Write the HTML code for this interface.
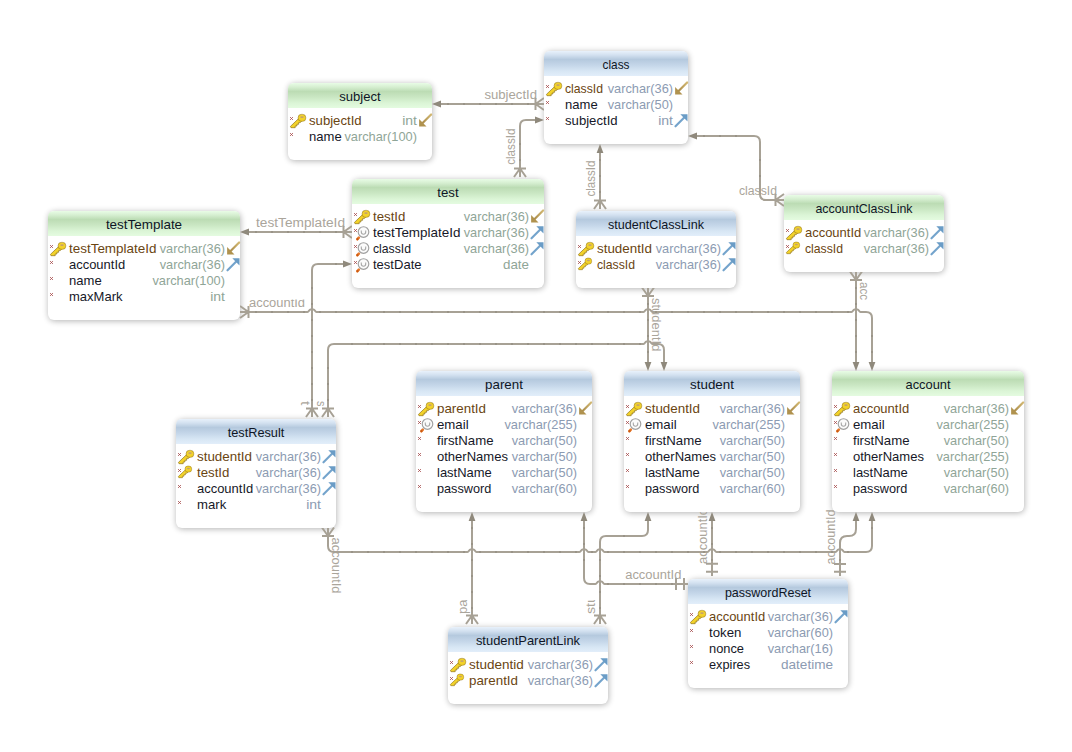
<!DOCTYPE html><html><head><meta charset="utf-8"><style>html,body{margin:0;padding:0;background:#fff;width:1072px;height:752px;overflow:hidden}svg{display:block}</style></head><body>
<svg width="1072" height="752" viewBox="0 0 1072 752">
<defs>
<filter id="blur" x="-20%" y="-20%" width="140%" height="140%"><feGaussianBlur stdDeviation="3.4"/></filter>
<linearGradient id="gblue" x1="0" y1="0" x2="0" y2="1"><stop offset="0" stop-color="#e8f1fb"/><stop offset="0.16" stop-color="#d3e1f0"/><stop offset="0.34" stop-color="#b5c9de"/><stop offset="0.55" stop-color="#c3d5e8"/><stop offset="0.8" stop-color="#d7e6f4"/><stop offset="1" stop-color="#e2eefa"/></linearGradient>
<linearGradient id="ggreen" x1="0" y1="0" x2="0" y2="1"><stop offset="0" stop-color="#e8fce6"/><stop offset="0.16" stop-color="#d6efd1"/><stop offset="0.34" stop-color="#bcdcb4"/><stop offset="0.55" stop-color="#c9e6c2"/><stop offset="0.8" stop-color="#dbf5d6"/><stop offset="1" stop-color="#e4fbe0"/></linearGradient>
<linearGradient id="gidx" x1="0" y1="0" x2="0" y2="1"><stop offset="0" stop-color="#ffffff"/><stop offset="1" stop-color="#e6e6e6"/></linearGradient>
<linearGradient id="gpk" x1="1" y1="0" x2="0" y2="1"><stop offset="0" stop-color="#d2b872"/><stop offset="1" stop-color="#a88a4a"/></linearGradient>
</defs>
<g fill="#000" opacity="0.30" filter="url(#blur)">
<rect x="544.5" y="52" width="144" height="93" rx="6"/>
<rect x="288.5" y="84" width="144" height="77" rx="6"/>
<rect x="352.5" y="180" width="192" height="109" rx="6"/>
<rect x="48.5" y="212" width="192" height="109" rx="6"/>
<rect x="576.5" y="212" width="160" height="77" rx="6"/>
<rect x="784.5" y="196" width="160" height="77" rx="6"/>
<rect x="416.5" y="372" width="176" height="141" rx="6"/>
<rect x="624.5" y="372" width="176" height="141" rx="6"/>
<rect x="832.5" y="372" width="192" height="141" rx="6"/>
<rect x="176.5" y="420" width="160" height="109" rx="6"/>
<rect x="688.5" y="580" width="160" height="109" rx="6"/>
<rect x="448.5" y="628" width="160" height="77" rx="6"/>
</g>
<g><text x="484.4" y="98.7" font-family="Liberation Sans, sans-serif" font-size="12.5" fill="#aaa59b" textLength="52.6" lengthAdjust="spacingAndGlyphs">subjectId</text></g>
<g><text x="515" y="164.8" transform="rotate(-90 515 164.8)" font-family="Liberation Sans, sans-serif" font-size="12.5" fill="#aaa59b" textLength="36.3" lengthAdjust="spacingAndGlyphs">classId</text></g>
<g><text x="595" y="196.5" transform="rotate(-90 595 196.5)" font-family="Liberation Sans, sans-serif" font-size="12.5" fill="#aaa59b" textLength="35.9" lengthAdjust="spacingAndGlyphs">classId</text></g>
<g><text x="739" y="194.5" font-family="Liberation Sans, sans-serif" font-size="12.5" fill="#aaa59b" textLength="38.0" lengthAdjust="spacingAndGlyphs">classId</text></g>
<g><text x="256" y="227" font-family="Liberation Sans, sans-serif" font-size="12.5" fill="#aaa59b" textLength="89.0" lengthAdjust="spacingAndGlyphs">testTemplateId</text></g>
<clipPath id="lc1"><rect x="240" y="299.5" width="80" height="20"/></clipPath>
<g clip-path="url(#lc1)"><text x="249" y="306.5" font-family="Liberation Sans, sans-serif" font-size="12.5" fill="#aaa59b" textLength="56.0" lengthAdjust="spacingAndGlyphs">accountId</text></g>
<g><text x="300.5" y="401" transform="rotate(90 300.5 401)" font-family="Liberation Sans, sans-serif" font-size="12.5" fill="#aaa59b" textLength="4.4" lengthAdjust="spacingAndGlyphs">t</text></g>
<g><text x="316.5" y="401" transform="rotate(90 316.5 401)" font-family="Liberation Sans, sans-serif" font-size="12.5" fill="#aaa59b" textLength="5.5" lengthAdjust="spacingAndGlyphs">s</text></g>
<g><text x="651.5" y="298" transform="rotate(90 651.5 298)" font-family="Liberation Sans, sans-serif" font-size="12.5" fill="#aaa59b" textLength="53.4" lengthAdjust="spacingAndGlyphs">studentId</text></g>
<g><text x="860" y="282" transform="rotate(90 860 282)" font-family="Liberation Sans, sans-serif" font-size="12.5" fill="#aaa59b" textLength="18.0" lengthAdjust="spacingAndGlyphs">acc</text></g>
<g><text x="331.5" y="537.5" transform="rotate(90 331.5 537.5)" font-family="Liberation Sans, sans-serif" font-size="12.5" fill="#aaa59b" textLength="56.0" lengthAdjust="spacingAndGlyphs">accountId</text></g>
<clipPath id="lc2"><rect x="450" y="600" width="30" height="20"/></clipPath>
<g clip-path="url(#lc2)"><text x="467" y="614" transform="rotate(-90 467 614)" font-family="Liberation Sans, sans-serif" font-size="12.5" fill="#aaa59b" textLength="14.6" lengthAdjust="spacingAndGlyphs">pa</text></g>
<clipPath id="lc3"><rect x="580" y="600" width="30" height="20"/></clipPath>
<g clip-path="url(#lc3)"><text x="595.2" y="614" transform="rotate(-90 595.2 614)" font-family="Liberation Sans, sans-serif" font-size="12.5" fill="#aaa59b" textLength="19.0" lengthAdjust="spacingAndGlyphs">stu</text></g>
<g><text x="625.2" y="578.7" font-family="Liberation Sans, sans-serif" font-size="12.5" fill="#aaa59b" textLength="56.2" lengthAdjust="spacingAndGlyphs">accountId</text></g>
<g><text x="707" y="564" transform="rotate(-90 707 564)" font-family="Liberation Sans, sans-serif" font-size="12.5" fill="#aaa59b" textLength="56.0" lengthAdjust="spacingAndGlyphs">accountId</text></g>
<g><text x="835" y="564.5" transform="rotate(-90 835 564.5)" font-family="Liberation Sans, sans-serif" font-size="12.5" fill="#aaa59b" textLength="55.0" lengthAdjust="spacingAndGlyphs">accountId</text></g>
<path d="M440,104 H536" fill="none" stroke="#a7a195" stroke-width="2"/>
<polygon points="432,104 441,100.6 441,107.4" fill="#8f897c"/>
<path d="M535.5,104 L544,98 M535.5,104 L544,104 M535.5,104 L544,110 M535.5,98 V110" fill="none" stroke="#a7a195" stroke-width="2"/>
<path d="M520,168 V126 Q520,120 526,120 H536" fill="none" stroke="#a7a195" stroke-width="2"/>
<polygon points="544,120 535,116.6 535,123.4" fill="#8f897c"/>
<path d="M520,168.5 L514,177 M520,168.5 L520,177 M520,168.5 L526,177 M514,168.5 H526" fill="none" stroke="#a7a195" stroke-width="2"/>
<path d="M600,152 V200" fill="none" stroke="#a7a195" stroke-width="2"/>
<polygon points="600,144 596.6,153 603.4,153" fill="#8f897c"/>
<path d="M600,200.5 L594,209 M600,200.5 L600,209 M600,200.5 L606,209 M594,200.5 H606" fill="none" stroke="#a7a195" stroke-width="2"/>
<path d="M776,200 H766 Q760,200 760,194 V142 Q760,136 754,136 H696" fill="none" stroke="#a7a195" stroke-width="2"/>
<polygon points="688,136 697,132.6 697,139.4" fill="#8f897c"/>
<path d="M775.5,200 L784,194 M775.5,200 L784,200 M775.5,200 L784,206 M775.5,194 V206" fill="none" stroke="#a7a195" stroke-width="2"/>
<path d="M248,232 H344" fill="none" stroke="#a7a195" stroke-width="2"/>
<polygon points="240,232 249,228.6 249,235.4" fill="#8f897c"/>
<path d="M343.5,232 L352,226 M343.5,232 L352,232 M343.5,232 L352,238 M343.5,226 V238" fill="none" stroke="#a7a195" stroke-width="2"/>
<path d="M248,312 H307.5 C309,312 309,309.4 310.5,309.4 H313.5 C315,309.4 315,312 316.5,312 H643.5 C645,312 645,309.4 646.5,309.4 H649.5 C651,309.4 651,312 652.5,312 H851.5 C853,312 853,309.4 854.5,309.4 H857.5 C859,309.4 859,312 860.5,312 H866 Q872,312 872,318 V362" fill="none" stroke="#a7a195" stroke-width="2"/>
<polygon points="872,371 868.6,362 875.4,362" fill="#8f897c"/>
<path d="M248.5,312 L240,306 M248.5,312 L240,312 M248.5,312 L240,318 M248.5,306 V318" fill="none" stroke="#a7a195" stroke-width="2"/>
<path d="M312,408 V270 Q312,264 318,264 H343" fill="none" stroke="#a7a195" stroke-width="2"/>
<polygon points="352,264 343,260.6 343,267.4" fill="#8f897c"/>
<path d="M312,408.5 L306,417 M312,408.5 L312,417 M312,408.5 L318,417 M306,408.5 H318" fill="none" stroke="#a7a195" stroke-width="2"/>
<path d="M328,408 V350 Q328,344 334,344 H643.5 C645,344 645,341.4 646.5,341.4 H649.5 C651,341.4 651,344 652.5,344 H658 Q664,344 664,350 V362" fill="none" stroke="#a7a195" stroke-width="2"/>
<polygon points="664,371 660.6,362 667.4,362" fill="#8f897c"/>
<path d="M328,408.5 L322,417 M328,408.5 L328,417 M328,408.5 L334,417 M322,408.5 H334" fill="none" stroke="#a7a195" stroke-width="2"/>
<path d="M648,296 V362" fill="none" stroke="#a7a195" stroke-width="2"/>
<polygon points="648,371 644.6,362 651.4,362" fill="#8f897c"/>
<path d="M648,296.0 L642,287.5 M648,296.0 L648,287.5 M648,296.0 L654,287.5 M642,296.0 H654" fill="none" stroke="#a7a195" stroke-width="2"/>
<path d="M856,280 V362" fill="none" stroke="#a7a195" stroke-width="2"/>
<polygon points="856,371 852.6,362 859.4,362" fill="#8f897c"/>
<path d="M856,280.0 L850,271.5 M856,280.0 L856,271.5 M856,280.0 L862,271.5 M850,280.0 H862" fill="none" stroke="#a7a195" stroke-width="2"/>
<path d="M328,536 V546 Q328,552 334,552 H467.5 C469,552 469,549.4 470.5,549.4 H473.5 C475,549.4 475,552 476.5,552 H579.5 C581,552 581,549.4 582.5,549.4 H585.5 C587,549.4 587,552 588.5,552 H595.5 C597,552 597,549.4 598.5,549.4 H601.5 C603,549.4 603,552 604.5,552 H707.5 C709,552 709,549.4 710.5,549.4 H713.5 C715,549.4 715,552 716.5,552 H835.5 C837,552 837,549.4 838.5,549.4 H841.5 C843,549.4 843,552 844.5,552 H866 Q872,552 872,546 V521" fill="none" stroke="#a7a195" stroke-width="2"/>
<polygon points="872,512 868.6,521 875.4,521" fill="#8f897c"/>
<path d="M328,536.0 L322,527.5 M328,536.0 L328,527.5 M328,536.0 L334,527.5 M322,536.0 H334" fill="none" stroke="#a7a195" stroke-width="2"/>
<path d="M472,616 V521" fill="none" stroke="#a7a195" stroke-width="2"/>
<polygon points="472,512 468.6,521 475.4,521" fill="#8f897c"/>
<path d="M472,615.5 L466,624 M472,615.5 L472,624 M472,615.5 L478,624 M466,615.5 H478" fill="none" stroke="#a7a195" stroke-width="2"/>
<path d="M600,616 V542 Q600,536 606,536 H642 Q648,536 648,530 V521" fill="none" stroke="#a7a195" stroke-width="2"/>
<polygon points="648,512 644.6,521 651.4,521" fill="#8f897c"/>
<path d="M600,615.5 L594,624 M600,615.5 L600,624 M600,615.5 L606,624 M594,615.5 H606" fill="none" stroke="#a7a195" stroke-width="2"/>
<path d="M584,521 V578 Q584,584 590,584 H595.5 C597,584 597,581.4 598.5,581.4 H601.5 C603,581.4 603,584 604.5,584 H688" fill="none" stroke="#a7a195" stroke-width="2"/>
<polygon points="584,512 580.6,521 587.4,521" fill="#8f897c"/>
<path d="M676,578 V590 M684,578 V590" fill="none" stroke="#a7a195" stroke-width="2"/>
<path d="M712,521 V576" fill="none" stroke="#a7a195" stroke-width="2"/>
<polygon points="712,512 708.6,521 715.4,521" fill="#8f897c"/>
<path d="M706,563.8 H718 M706,571.8 H718" fill="none" stroke="#a7a195" stroke-width="2"/>
<path d="M840,576 V543 Q840,536 847,536 H849 Q856,536 856,529 V521" fill="none" stroke="#a7a195" stroke-width="2"/>
<polygon points="856,512 852.6,521 859.4,521" fill="#8f897c"/>
<path d="M834,563.9 H846 M834,571.8 H846" fill="none" stroke="#a7a195" stroke-width="2"/>
<g fill="#8f897d" opacity="0.55"><rect x="447" y="103" width="2" height="2"/><rect x="463" y="103" width="2" height="2"/><rect x="479" y="103" width="2" height="2"/><rect x="495" y="103" width="2" height="2"/><rect x="511" y="103" width="2" height="2"/><rect x="527" y="103" width="2" height="2"/><rect x="703" y="135" width="2" height="2"/><rect x="719" y="135" width="2" height="2"/><rect x="735" y="135" width="2" height="2"/><rect x="255" y="231" width="2" height="2"/><rect x="271" y="231" width="2" height="2"/><rect x="287" y="231" width="2" height="2"/><rect x="303" y="231" width="2" height="2"/><rect x="319" y="231" width="2" height="2"/><rect x="335" y="231" width="2" height="2"/><rect x="255" y="311" width="2" height="2"/><rect x="271" y="311" width="2" height="2"/><rect x="287" y="311" width="2" height="2"/><rect x="303" y="311" width="2" height="2"/><rect x="319" y="311" width="2" height="2"/><rect x="335" y="311" width="2" height="2"/><rect x="351" y="311" width="2" height="2"/><rect x="367" y="311" width="2" height="2"/><rect x="383" y="311" width="2" height="2"/><rect x="399" y="311" width="2" height="2"/><rect x="415" y="311" width="2" height="2"/><rect x="431" y="311" width="2" height="2"/><rect x="447" y="311" width="2" height="2"/><rect x="463" y="311" width="2" height="2"/><rect x="479" y="311" width="2" height="2"/><rect x="495" y="311" width="2" height="2"/><rect x="511" y="311" width="2" height="2"/><rect x="527" y="311" width="2" height="2"/><rect x="543" y="311" width="2" height="2"/><rect x="559" y="311" width="2" height="2"/><rect x="575" y="311" width="2" height="2"/><rect x="591" y="311" width="2" height="2"/><rect x="607" y="311" width="2" height="2"/><rect x="623" y="311" width="2" height="2"/><rect x="639" y="311" width="2" height="2"/><rect x="655" y="311" width="2" height="2"/><rect x="671" y="311" width="2" height="2"/><rect x="687" y="311" width="2" height="2"/><rect x="703" y="311" width="2" height="2"/><rect x="719" y="311" width="2" height="2"/><rect x="735" y="311" width="2" height="2"/><rect x="751" y="311" width="2" height="2"/><rect x="767" y="311" width="2" height="2"/><rect x="783" y="311" width="2" height="2"/><rect x="799" y="311" width="2" height="2"/><rect x="815" y="311" width="2" height="2"/><rect x="831" y="311" width="2" height="2"/><rect x="847" y="311" width="2" height="2"/><rect x="335" y="263" width="2" height="2"/><rect x="351" y="343" width="2" height="2"/><rect x="367" y="343" width="2" height="2"/><rect x="383" y="343" width="2" height="2"/><rect x="399" y="343" width="2" height="2"/><rect x="415" y="343" width="2" height="2"/><rect x="431" y="343" width="2" height="2"/><rect x="447" y="343" width="2" height="2"/><rect x="463" y="343" width="2" height="2"/><rect x="479" y="343" width="2" height="2"/><rect x="495" y="343" width="2" height="2"/><rect x="511" y="343" width="2" height="2"/><rect x="527" y="343" width="2" height="2"/><rect x="543" y="343" width="2" height="2"/><rect x="559" y="343" width="2" height="2"/><rect x="575" y="343" width="2" height="2"/><rect x="591" y="343" width="2" height="2"/><rect x="607" y="343" width="2" height="2"/><rect x="623" y="343" width="2" height="2"/><rect x="639" y="343" width="2" height="2"/><rect x="351" y="551" width="2" height="2"/><rect x="367" y="551" width="2" height="2"/><rect x="383" y="551" width="2" height="2"/><rect x="399" y="551" width="2" height="2"/><rect x="415" y="551" width="2" height="2"/><rect x="431" y="551" width="2" height="2"/><rect x="447" y="551" width="2" height="2"/><rect x="463" y="551" width="2" height="2"/><rect x="479" y="551" width="2" height="2"/><rect x="495" y="551" width="2" height="2"/><rect x="511" y="551" width="2" height="2"/><rect x="527" y="551" width="2" height="2"/><rect x="543" y="551" width="2" height="2"/><rect x="559" y="551" width="2" height="2"/><rect x="575" y="551" width="2" height="2"/><rect x="591" y="551" width="2" height="2"/><rect x="607" y="551" width="2" height="2"/><rect x="623" y="551" width="2" height="2"/><rect x="639" y="551" width="2" height="2"/><rect x="655" y="551" width="2" height="2"/><rect x="671" y="551" width="2" height="2"/><rect x="687" y="551" width="2" height="2"/><rect x="703" y="551" width="2" height="2"/><rect x="719" y="551" width="2" height="2"/><rect x="735" y="551" width="2" height="2"/><rect x="751" y="551" width="2" height="2"/><rect x="767" y="551" width="2" height="2"/><rect x="783" y="551" width="2" height="2"/><rect x="799" y="551" width="2" height="2"/><rect x="815" y="551" width="2" height="2"/><rect x="831" y="551" width="2" height="2"/><rect x="847" y="551" width="2" height="2"/><rect x="623" y="535" width="2" height="2"/><rect x="607" y="583" width="2" height="2"/><rect x="623" y="583" width="2" height="2"/><rect x="639" y="583" width="2" height="2"/><rect x="655" y="583" width="2" height="2"/><rect x="671" y="583" width="2" height="2"/><rect x="519" y="143" width="2" height="2"/><rect x="519" y="159" width="2" height="2"/><rect x="599" y="159" width="2" height="2"/><rect x="599" y="175" width="2" height="2"/><rect x="599" y="191" width="2" height="2"/><rect x="759" y="159" width="2" height="2"/><rect x="759" y="175" width="2" height="2"/><rect x="871" y="335" width="2" height="2"/><rect x="871" y="351" width="2" height="2"/><rect x="311" y="287" width="2" height="2"/><rect x="311" y="303" width="2" height="2"/><rect x="311" y="319" width="2" height="2"/><rect x="311" y="335" width="2" height="2"/><rect x="311" y="351" width="2" height="2"/><rect x="311" y="367" width="2" height="2"/><rect x="311" y="383" width="2" height="2"/><rect x="311" y="399" width="2" height="2"/><rect x="327" y="367" width="2" height="2"/><rect x="327" y="383" width="2" height="2"/><rect x="327" y="399" width="2" height="2"/><rect x="647" y="303" width="2" height="2"/><rect x="647" y="319" width="2" height="2"/><rect x="647" y="335" width="2" height="2"/><rect x="647" y="351" width="2" height="2"/><rect x="855" y="287" width="2" height="2"/><rect x="855" y="303" width="2" height="2"/><rect x="855" y="319" width="2" height="2"/><rect x="855" y="335" width="2" height="2"/><rect x="855" y="351" width="2" height="2"/><rect x="871" y="527" width="2" height="2"/><rect x="471" y="527" width="2" height="2"/><rect x="471" y="543" width="2" height="2"/><rect x="471" y="559" width="2" height="2"/><rect x="471" y="575" width="2" height="2"/><rect x="471" y="591" width="2" height="2"/><rect x="471" y="607" width="2" height="2"/><rect x="599" y="559" width="2" height="2"/><rect x="599" y="575" width="2" height="2"/><rect x="599" y="591" width="2" height="2"/><rect x="599" y="607" width="2" height="2"/><rect x="583" y="527" width="2" height="2"/><rect x="583" y="543" width="2" height="2"/><rect x="583" y="559" width="2" height="2"/><rect x="711" y="527" width="2" height="2"/><rect x="711" y="543" width="2" height="2"/><rect x="711" y="559" width="2" height="2"/><rect x="839" y="559" width="2" height="2"/></g>
<g>
<rect x="544" y="51" width="144" height="93" rx="6" fill="#fff"/>
<path d="M544,76 V57 Q544,51 550,51 H682 Q688,51 688,57 V76 Z" fill="url(#gblue)"/>
<text x="616.0" y="69" text-anchor="middle" font-family="Liberation Sans, sans-serif" font-size="13" fill="#0e1626" textLength="26.9" lengthAdjust="spacingAndGlyphs">class</text>
<path d="M546.1,85.1 L548.9,87.9 M548.9,85.1 L546.1,87.9" stroke="#a85050" stroke-width="0.9"/>
<g transform="translate(544,81)"><g><path d="M10.6,5.6 L2.4,13.4 L3.0,14.7 L7.2,14.7 L7.2,13.0 L8.9,13.0 L8.9,11.3 L10.6,11.3 L10.6,9.6 L12.2,9.6 L13.6,8.3 Z" fill="#f2d22a" stroke="#8a6c14" stroke-width="0.65" stroke-linejoin="miter"/><rect x="10.2" y="1.4" width="7.5" height="6.9" rx="3" fill="#f2d22a" stroke="#9a7a18" stroke-width="0.6"/><ellipse cx="14" cy="4.1" rx="1.8" ry="0.9" fill="#c4a070"/></g></g>
<text x="565" y="93" font-family="Liberation Sans, sans-serif" font-size="13" fill="#6a4512" textLength="38.0" lengthAdjust="spacingAndGlyphs">classId</text>
<text x="673" y="93" text-anchor="end" font-family="Liberation Sans, sans-serif" font-size="13" fill="#8c9bb2" textLength="65.3" lengthAdjust="spacingAndGlyphs">varchar(36)</text>
<g transform="translate(674.5,81.5)"><g><path d="M12.6,1.0 L3.6,10.0" stroke="url(#gpk)" stroke-width="2.2" stroke-linecap="round"/><path d="M0.6,13.0 L0.6,5.6 L8.0,13.0 Z" fill="#b0924e"/></g></g>
<path d="M546.1,101.1 L548.9,103.9 M548.9,101.1 L546.1,103.9" stroke="#a85050" stroke-width="0.9"/>
<text x="565" y="109" font-family="Liberation Sans, sans-serif" font-size="13" fill="#161828" textLength="32.7" lengthAdjust="spacingAndGlyphs">name</text>
<text x="673" y="109" text-anchor="end" font-family="Liberation Sans, sans-serif" font-size="13" fill="#8c9bb2" textLength="65.3" lengthAdjust="spacingAndGlyphs">varchar(50)</text>
<path d="M546.1,117.1 L548.9,119.9 M548.9,117.1 L546.1,119.9" stroke="#a85050" stroke-width="0.9"/>
<text x="565" y="125" font-family="Liberation Sans, sans-serif" font-size="13" fill="#161828" textLength="52.6" lengthAdjust="spacingAndGlyphs">subjectId</text>
<text x="673" y="125" text-anchor="end" font-family="Liberation Sans, sans-serif" font-size="13" fill="#8c9bb2" textLength="14.8" lengthAdjust="spacingAndGlyphs">int</text>
<g transform="translate(674.5,113.5)"><g><path d="M1.0,12.8 L10.0,3.8" stroke="#74a4cc" stroke-width="2.2" stroke-linecap="round"/><path d="M13.0,0.8 L13.0,8.0 L5.8,0.8 Z" fill="#6a9cc6"/></g></g>
</g>
<g>
<rect x="288" y="83" width="144" height="77" rx="6" fill="#fff"/>
<path d="M288,108 V89 Q288,83 294,83 H426 Q432,83 432,89 V108 Z" fill="url(#ggreen)"/>
<text x="360.0" y="101" text-anchor="middle" font-family="Liberation Sans, sans-serif" font-size="13" fill="#0e1626" textLength="41.4" lengthAdjust="spacingAndGlyphs">subject</text>
<path d="M290.1,117.1 L292.9,119.9 M292.9,117.1 L290.1,119.9" stroke="#a85050" stroke-width="0.9"/>
<g transform="translate(288,113)"><g><path d="M10.6,5.6 L2.4,13.4 L3.0,14.7 L7.2,14.7 L7.2,13.0 L8.9,13.0 L8.9,11.3 L10.6,11.3 L10.6,9.6 L12.2,9.6 L13.6,8.3 Z" fill="#f2d22a" stroke="#8a6c14" stroke-width="0.65" stroke-linejoin="miter"/><rect x="10.2" y="1.4" width="7.5" height="6.9" rx="3" fill="#f2d22a" stroke="#9a7a18" stroke-width="0.6"/><ellipse cx="14" cy="4.1" rx="1.8" ry="0.9" fill="#c4a070"/></g></g>
<text x="309" y="125" font-family="Liberation Sans, sans-serif" font-size="13" fill="#6a4512" textLength="52.6" lengthAdjust="spacingAndGlyphs">subjectId</text>
<text x="417" y="125" text-anchor="end" font-family="Liberation Sans, sans-serif" font-size="13" fill="#8fa597" textLength="14.8" lengthAdjust="spacingAndGlyphs">int</text>
<g transform="translate(418.5,113.5)"><g><path d="M12.6,1.0 L3.6,10.0" stroke="url(#gpk)" stroke-width="2.2" stroke-linecap="round"/><path d="M0.6,13.0 L0.6,5.6 L8.0,13.0 Z" fill="#b0924e"/></g></g>
<path d="M290.1,133.1 L292.9,135.9 M292.9,133.1 L290.1,135.9" stroke="#a85050" stroke-width="0.9"/>
<text x="309" y="141" font-family="Liberation Sans, sans-serif" font-size="13" fill="#161828" textLength="32.7" lengthAdjust="spacingAndGlyphs">name</text>
<text x="417" y="141" text-anchor="end" font-family="Liberation Sans, sans-serif" font-size="13" fill="#8fa597" textLength="72.6" lengthAdjust="spacingAndGlyphs">varchar(100)</text>
</g>
<g>
<rect x="352" y="179" width="192" height="109" rx="6" fill="#fff"/>
<path d="M352,204 V185 Q352,179 358,179 H538 Q544,179 544,185 V204 Z" fill="url(#ggreen)"/>
<text x="448.0" y="197" text-anchor="middle" font-family="Liberation Sans, sans-serif" font-size="13" fill="#0e1626" textLength="21.3" lengthAdjust="spacingAndGlyphs">test</text>
<path d="M354.1,213.1 L356.9,215.9 M356.9,213.1 L354.1,215.9" stroke="#a85050" stroke-width="0.9"/>
<g transform="translate(352,209)"><g><path d="M10.6,5.6 L2.4,13.4 L3.0,14.7 L7.2,14.7 L7.2,13.0 L8.9,13.0 L8.9,11.3 L10.6,11.3 L10.6,9.6 L12.2,9.6 L13.6,8.3 Z" fill="#f2d22a" stroke="#8a6c14" stroke-width="0.65" stroke-linejoin="miter"/><rect x="10.2" y="1.4" width="7.5" height="6.9" rx="3" fill="#f2d22a" stroke="#9a7a18" stroke-width="0.6"/><ellipse cx="14" cy="4.1" rx="1.8" ry="0.9" fill="#c4a070"/></g></g>
<text x="373" y="221" font-family="Liberation Sans, sans-serif" font-size="13" fill="#6a4512" textLength="32.4" lengthAdjust="spacingAndGlyphs">testId</text>
<text x="529" y="221" text-anchor="end" font-family="Liberation Sans, sans-serif" font-size="13" fill="#8fa597" textLength="65.3" lengthAdjust="spacingAndGlyphs">varchar(36)</text>
<g transform="translate(530.5,209.5)"><g><path d="M12.6,1.0 L3.6,10.0" stroke="url(#gpk)" stroke-width="2.2" stroke-linecap="round"/><path d="M0.6,13.0 L0.6,5.6 L8.0,13.0 Z" fill="#b0924e"/></g></g>
<path d="M354.1,229.1 L356.9,231.9 M356.9,229.1 L354.1,231.9" stroke="#a85050" stroke-width="0.9"/>
<g transform="translate(354.5,225)"><g><path d="M2.9,14.2 L4.3,12.7" stroke="#e8782a" stroke-width="2.7" stroke-linecap="round"/><circle cx="3.0" cy="14.1" r="1.1" fill="#c85a14"/><circle cx="9.0" cy="7.0" r="5.3" fill="#fbfbfb" stroke="#a0a0a0" stroke-width="1.15"/><path d="M6.8,5.4 V7.0 Q6.8,9.2 9.0,9.2 Q11.2,9.2 11.2,7.0 V5.4" fill="none" stroke="#a8a8a8" stroke-width="1.1"/></g></g>
<text x="373" y="237" font-family="Liberation Sans, sans-serif" font-size="13" fill="#161828" textLength="87.4" lengthAdjust="spacingAndGlyphs">testTemplateId</text>
<text x="529" y="237" text-anchor="end" font-family="Liberation Sans, sans-serif" font-size="13" fill="#8fa597" textLength="65.3" lengthAdjust="spacingAndGlyphs">varchar(36)</text>
<g transform="translate(530.5,225.5)"><g><path d="M1.0,12.8 L10.0,3.8" stroke="#74a4cc" stroke-width="2.2" stroke-linecap="round"/><path d="M13.0,0.8 L13.0,8.0 L5.8,0.8 Z" fill="#6a9cc6"/></g></g>
<path d="M354.1,245.1 L356.9,247.9 M356.9,245.1 L354.1,247.9" stroke="#a85050" stroke-width="0.9"/>
<g transform="translate(354.5,241)"><g><path d="M2.9,14.2 L4.3,12.7" stroke="#e8782a" stroke-width="2.7" stroke-linecap="round"/><circle cx="3.0" cy="14.1" r="1.1" fill="#c85a14"/><circle cx="9.0" cy="7.0" r="5.3" fill="#fbfbfb" stroke="#a0a0a0" stroke-width="1.15"/><path d="M6.8,5.4 V7.0 Q6.8,9.2 9.0,9.2 Q11.2,9.2 11.2,7.0 V5.4" fill="none" stroke="#a8a8a8" stroke-width="1.1"/></g></g>
<text x="373" y="253" font-family="Liberation Sans, sans-serif" font-size="13" fill="#161828" textLength="38.0" lengthAdjust="spacingAndGlyphs">classId</text>
<text x="529" y="253" text-anchor="end" font-family="Liberation Sans, sans-serif" font-size="13" fill="#8fa597" textLength="65.3" lengthAdjust="spacingAndGlyphs">varchar(36)</text>
<g transform="translate(530.5,241.5)"><g><path d="M1.0,12.8 L10.0,3.8" stroke="#74a4cc" stroke-width="2.2" stroke-linecap="round"/><path d="M13.0,0.8 L13.0,8.0 L5.8,0.8 Z" fill="#6a9cc6"/></g></g>
<path d="M354.1,261.1 L356.9,263.9 M356.9,261.1 L354.1,263.9" stroke="#a85050" stroke-width="0.9"/>
<g transform="translate(354.5,257)"><g><path d="M2.9,14.2 L4.3,12.7" stroke="#e8782a" stroke-width="2.7" stroke-linecap="round"/><circle cx="3.0" cy="14.1" r="1.1" fill="#c85a14"/><circle cx="9.0" cy="7.0" r="5.3" fill="#fbfbfb" stroke="#a0a0a0" stroke-width="1.15"/><path d="M6.8,5.4 V7.0 Q6.8,9.2 9.0,9.2 Q11.2,9.2 11.2,7.0 V5.4" fill="none" stroke="#a8a8a8" stroke-width="1.1"/></g></g>
<text x="373" y="269" font-family="Liberation Sans, sans-serif" font-size="13" fill="#161828" textLength="48.5" lengthAdjust="spacingAndGlyphs">testDate</text>
<text x="529" y="269" text-anchor="end" font-family="Liberation Sans, sans-serif" font-size="13" fill="#8fa597" textLength="26.0" lengthAdjust="spacingAndGlyphs">date</text>
</g>
<g>
<rect x="48" y="211" width="192" height="109" rx="6" fill="#fff"/>
<path d="M48,236 V217 Q48,211 54,211 H234 Q240,211 240,217 V236 Z" fill="url(#ggreen)"/>
<text x="144.0" y="229" text-anchor="middle" font-family="Liberation Sans, sans-serif" font-size="13" fill="#0e1626" textLength="76.2" lengthAdjust="spacingAndGlyphs">testTemplate</text>
<path d="M50.1,245.1 L52.9,247.9 M52.9,245.1 L50.1,247.9" stroke="#a85050" stroke-width="0.9"/>
<g transform="translate(48,241)"><g><path d="M10.6,5.6 L2.4,13.4 L3.0,14.7 L7.2,14.7 L7.2,13.0 L8.9,13.0 L8.9,11.3 L10.6,11.3 L10.6,9.6 L12.2,9.6 L13.6,8.3 Z" fill="#f2d22a" stroke="#8a6c14" stroke-width="0.65" stroke-linejoin="miter"/><rect x="10.2" y="1.4" width="7.5" height="6.9" rx="3" fill="#f2d22a" stroke="#9a7a18" stroke-width="0.6"/><ellipse cx="14" cy="4.1" rx="1.8" ry="0.9" fill="#c4a070"/></g></g>
<text x="69" y="253" font-family="Liberation Sans, sans-serif" font-size="13" fill="#6a4512" textLength="87.4" lengthAdjust="spacingAndGlyphs">testTemplateId</text>
<text x="225" y="253" text-anchor="end" font-family="Liberation Sans, sans-serif" font-size="13" fill="#8fa597" textLength="65.3" lengthAdjust="spacingAndGlyphs">varchar(36)</text>
<g transform="translate(226.5,241.5)"><g><path d="M12.6,1.0 L3.6,10.0" stroke="url(#gpk)" stroke-width="2.2" stroke-linecap="round"/><path d="M0.6,13.0 L0.6,5.6 L8.0,13.0 Z" fill="#b0924e"/></g></g>
<path d="M50.1,261.1 L52.9,263.9 M52.9,261.1 L50.1,263.9" stroke="#a85050" stroke-width="0.9"/>
<text x="69" y="269" font-family="Liberation Sans, sans-serif" font-size="13" fill="#161828" textLength="56.2" lengthAdjust="spacingAndGlyphs">accountId</text>
<text x="225" y="269" text-anchor="end" font-family="Liberation Sans, sans-serif" font-size="13" fill="#8fa597" textLength="65.3" lengthAdjust="spacingAndGlyphs">varchar(36)</text>
<g transform="translate(226.5,257.5)"><g><path d="M1.0,12.8 L10.0,3.8" stroke="#74a4cc" stroke-width="2.2" stroke-linecap="round"/><path d="M13.0,0.8 L13.0,8.0 L5.8,0.8 Z" fill="#6a9cc6"/></g></g>
<path d="M50.1,277.1 L52.9,279.9 M52.9,277.1 L50.1,279.9" stroke="#a85050" stroke-width="0.9"/>
<text x="69" y="285" font-family="Liberation Sans, sans-serif" font-size="13" fill="#161828" textLength="32.7" lengthAdjust="spacingAndGlyphs">name</text>
<text x="225" y="285" text-anchor="end" font-family="Liberation Sans, sans-serif" font-size="13" fill="#8fa597" textLength="72.6" lengthAdjust="spacingAndGlyphs">varchar(100)</text>
<path d="M50.1,293.1 L52.9,295.9 M52.9,293.1 L50.1,295.9" stroke="#a85050" stroke-width="0.9"/>
<text x="69" y="301" font-family="Liberation Sans, sans-serif" font-size="13" fill="#161828" textLength="53.5" lengthAdjust="spacingAndGlyphs">maxMark</text>
<text x="225" y="301" text-anchor="end" font-family="Liberation Sans, sans-serif" font-size="13" fill="#8fa597" textLength="14.8" lengthAdjust="spacingAndGlyphs">int</text>
</g>
<g>
<rect x="576" y="211" width="160" height="77" rx="6" fill="#fff"/>
<path d="M576,236 V217 Q576,211 582,211 H730 Q736,211 736,217 V236 Z" fill="url(#gblue)"/>
<text x="656.0" y="229" text-anchor="middle" font-family="Liberation Sans, sans-serif" font-size="13" fill="#0e1626" textLength="95.9" lengthAdjust="spacingAndGlyphs">studentClassLink</text>
<path d="M578.1,245.1 L580.9,247.9 M580.9,245.1 L578.1,247.9" stroke="#a85050" stroke-width="0.9"/>
<g transform="translate(576,241)"><g><path d="M10.6,5.6 L2.4,13.4 L3.0,14.7 L7.2,14.7 L7.2,13.0 L8.9,13.0 L8.9,11.3 L10.6,11.3 L10.6,9.6 L12.2,9.6 L13.6,8.3 Z" fill="#f2d22a" stroke="#8a6c14" stroke-width="0.65" stroke-linejoin="miter"/><rect x="10.2" y="1.4" width="7.5" height="6.9" rx="3" fill="#f2d22a" stroke="#9a7a18" stroke-width="0.6"/><ellipse cx="14" cy="4.1" rx="1.8" ry="0.9" fill="#c4a070"/></g></g>
<text x="597" y="253" font-family="Liberation Sans, sans-serif" font-size="13" fill="#6a4512" textLength="55.0" lengthAdjust="spacingAndGlyphs">studentId</text>
<text x="721" y="253" text-anchor="end" font-family="Liberation Sans, sans-serif" font-size="13" fill="#8c9bb2" textLength="65.3" lengthAdjust="spacingAndGlyphs">varchar(36)</text>
<g transform="translate(722.5,241.5)"><g><path d="M1.0,12.8 L10.0,3.8" stroke="#74a4cc" stroke-width="2.2" stroke-linecap="round"/><path d="M13.0,0.8 L13.0,8.0 L5.8,0.8 Z" fill="#6a9cc6"/></g></g>
<path d="M578.1,261.1 L580.9,263.9 M580.9,261.1 L578.1,263.9" stroke="#a85050" stroke-width="0.9"/>
<g transform="translate(579,269.6) scale(0.87) translate(-3.2,-14.6)"><g><path d="M10.6,5.6 L2.4,13.4 L3.0,14.7 L7.2,14.7 L7.2,13.0 L8.9,13.0 L8.9,11.3 L10.6,11.3 L10.6,9.6 L12.2,9.6 L13.6,8.3 Z" fill="#f2d22a" stroke="#8a6c14" stroke-width="0.65" stroke-linejoin="miter"/><rect x="10.2" y="1.4" width="7.5" height="6.9" rx="3" fill="#f2d22a" stroke="#9a7a18" stroke-width="0.6"/><ellipse cx="14" cy="4.1" rx="1.8" ry="0.9" fill="#c4a070"/></g></g>
<text x="597" y="269" font-family="Liberation Sans, sans-serif" font-size="13" fill="#6a4512" textLength="38.0" lengthAdjust="spacingAndGlyphs">classId</text>
<text x="721" y="269" text-anchor="end" font-family="Liberation Sans, sans-serif" font-size="13" fill="#8c9bb2" textLength="65.3" lengthAdjust="spacingAndGlyphs">varchar(36)</text>
<g transform="translate(722.5,257.5)"><g><path d="M1.0,12.8 L10.0,3.8" stroke="#74a4cc" stroke-width="2.2" stroke-linecap="round"/><path d="M13.0,0.8 L13.0,8.0 L5.8,0.8 Z" fill="#6a9cc6"/></g></g>
</g>
<g>
<rect x="784" y="195" width="160" height="77" rx="6" fill="#fff"/>
<path d="M784,220 V201 Q784,195 790,195 H938 Q944,195 944,201 V220 Z" fill="url(#ggreen)"/>
<text x="864.0" y="213" text-anchor="middle" font-family="Liberation Sans, sans-serif" font-size="13" fill="#0e1626" textLength="97.1" lengthAdjust="spacingAndGlyphs">accountClassLink</text>
<path d="M786.1,229.1 L788.9,231.9 M788.9,229.1 L786.1,231.9" stroke="#a85050" stroke-width="0.9"/>
<g transform="translate(784,225)"><g><path d="M10.6,5.6 L2.4,13.4 L3.0,14.7 L7.2,14.7 L7.2,13.0 L8.9,13.0 L8.9,11.3 L10.6,11.3 L10.6,9.6 L12.2,9.6 L13.6,8.3 Z" fill="#f2d22a" stroke="#8a6c14" stroke-width="0.65" stroke-linejoin="miter"/><rect x="10.2" y="1.4" width="7.5" height="6.9" rx="3" fill="#f2d22a" stroke="#9a7a18" stroke-width="0.6"/><ellipse cx="14" cy="4.1" rx="1.8" ry="0.9" fill="#c4a070"/></g></g>
<text x="805" y="237" font-family="Liberation Sans, sans-serif" font-size="13" fill="#6a4512" textLength="56.2" lengthAdjust="spacingAndGlyphs">accountId</text>
<text x="929" y="237" text-anchor="end" font-family="Liberation Sans, sans-serif" font-size="13" fill="#8fa597" textLength="65.3" lengthAdjust="spacingAndGlyphs">varchar(36)</text>
<g transform="translate(930.5,225.5)"><g><path d="M1.0,12.8 L10.0,3.8" stroke="#74a4cc" stroke-width="2.2" stroke-linecap="round"/><path d="M13.0,0.8 L13.0,8.0 L5.8,0.8 Z" fill="#6a9cc6"/></g></g>
<path d="M786.1,245.1 L788.9,247.9 M788.9,245.1 L786.1,247.9" stroke="#a85050" stroke-width="0.9"/>
<g transform="translate(787,253.6) scale(0.87) translate(-3.2,-14.6)"><g><path d="M10.6,5.6 L2.4,13.4 L3.0,14.7 L7.2,14.7 L7.2,13.0 L8.9,13.0 L8.9,11.3 L10.6,11.3 L10.6,9.6 L12.2,9.6 L13.6,8.3 Z" fill="#f2d22a" stroke="#8a6c14" stroke-width="0.65" stroke-linejoin="miter"/><rect x="10.2" y="1.4" width="7.5" height="6.9" rx="3" fill="#f2d22a" stroke="#9a7a18" stroke-width="0.6"/><ellipse cx="14" cy="4.1" rx="1.8" ry="0.9" fill="#c4a070"/></g></g>
<text x="805" y="253" font-family="Liberation Sans, sans-serif" font-size="13" fill="#6a4512" textLength="38.0" lengthAdjust="spacingAndGlyphs">classId</text>
<text x="929" y="253" text-anchor="end" font-family="Liberation Sans, sans-serif" font-size="13" fill="#8fa597" textLength="65.3" lengthAdjust="spacingAndGlyphs">varchar(36)</text>
<g transform="translate(930.5,241.5)"><g><path d="M1.0,12.8 L10.0,3.8" stroke="#74a4cc" stroke-width="2.2" stroke-linecap="round"/><path d="M13.0,0.8 L13.0,8.0 L5.8,0.8 Z" fill="#6a9cc6"/></g></g>
</g>
<g>
<rect x="416" y="371" width="176" height="141" rx="6" fill="#fff"/>
<path d="M416,396 V377 Q416,371 422,371 H586 Q592,371 592,377 V396 Z" fill="url(#gblue)"/>
<text x="504.0" y="389" text-anchor="middle" font-family="Liberation Sans, sans-serif" font-size="13" fill="#0e1626" textLength="37.8" lengthAdjust="spacingAndGlyphs">parent</text>
<path d="M418.1,405.1 L420.9,407.9 M420.9,405.1 L418.1,407.9" stroke="#a85050" stroke-width="0.9"/>
<g transform="translate(416,401)"><g><path d="M10.6,5.6 L2.4,13.4 L3.0,14.7 L7.2,14.7 L7.2,13.0 L8.9,13.0 L8.9,11.3 L10.6,11.3 L10.6,9.6 L12.2,9.6 L13.6,8.3 Z" fill="#f2d22a" stroke="#8a6c14" stroke-width="0.65" stroke-linejoin="miter"/><rect x="10.2" y="1.4" width="7.5" height="6.9" rx="3" fill="#f2d22a" stroke="#9a7a18" stroke-width="0.6"/><ellipse cx="14" cy="4.1" rx="1.8" ry="0.9" fill="#c4a070"/></g></g>
<text x="437" y="413" font-family="Liberation Sans, sans-serif" font-size="13" fill="#6a4512" textLength="49.0" lengthAdjust="spacingAndGlyphs">parentId</text>
<text x="577" y="413" text-anchor="end" font-family="Liberation Sans, sans-serif" font-size="13" fill="#8c9bb2" textLength="65.3" lengthAdjust="spacingAndGlyphs">varchar(36)</text>
<g transform="translate(578.5,401.5)"><g><path d="M12.6,1.0 L3.6,10.0" stroke="url(#gpk)" stroke-width="2.2" stroke-linecap="round"/><path d="M0.6,13.0 L0.6,5.6 L8.0,13.0 Z" fill="#b0924e"/></g></g>
<path d="M418.1,421.1 L420.9,423.9 M420.9,421.1 L418.1,423.9" stroke="#a85050" stroke-width="0.9"/>
<g transform="translate(418.5,417)"><g><path d="M2.9,14.2 L4.3,12.7" stroke="#e8782a" stroke-width="2.7" stroke-linecap="round"/><circle cx="3.0" cy="14.1" r="1.1" fill="#c85a14"/><circle cx="9.0" cy="7.0" r="5.3" fill="#fbfbfb" stroke="#a0a0a0" stroke-width="1.15"/><path d="M6.8,5.4 V7.0 Q6.8,9.2 9.0,9.2 Q11.2,9.2 11.2,7.0 V5.4" fill="none" stroke="#a8a8a8" stroke-width="1.1"/></g></g>
<text x="437" y="429" font-family="Liberation Sans, sans-serif" font-size="13" fill="#161828" textLength="31.6" lengthAdjust="spacingAndGlyphs">email</text>
<text x="577" y="429" text-anchor="end" font-family="Liberation Sans, sans-serif" font-size="13" fill="#8c9bb2" textLength="72.6" lengthAdjust="spacingAndGlyphs">varchar(255)</text>
<path d="M418.1,437.1 L420.9,439.9 M420.9,437.1 L418.1,439.9" stroke="#a85050" stroke-width="0.9"/>
<text x="437" y="445" font-family="Liberation Sans, sans-serif" font-size="13" fill="#161828" textLength="56.5" lengthAdjust="spacingAndGlyphs">firstName</text>
<text x="577" y="445" text-anchor="end" font-family="Liberation Sans, sans-serif" font-size="13" fill="#8c9bb2" textLength="65.3" lengthAdjust="spacingAndGlyphs">varchar(50)</text>
<path d="M418.1,453.1 L420.9,455.9 M420.9,453.1 L418.1,455.9" stroke="#a85050" stroke-width="0.9"/>
<text x="437" y="461" font-family="Liberation Sans, sans-serif" font-size="13" fill="#161828" textLength="71.0" lengthAdjust="spacingAndGlyphs">otherNames</text>
<text x="577" y="461" text-anchor="end" font-family="Liberation Sans, sans-serif" font-size="13" fill="#8c9bb2" textLength="65.3" lengthAdjust="spacingAndGlyphs">varchar(50)</text>
<path d="M418.1,469.1 L420.9,471.9 M420.9,469.1 L418.1,471.9" stroke="#a85050" stroke-width="0.9"/>
<text x="437" y="477" font-family="Liberation Sans, sans-serif" font-size="13" fill="#161828" textLength="54.7" lengthAdjust="spacingAndGlyphs">lastName</text>
<text x="577" y="477" text-anchor="end" font-family="Liberation Sans, sans-serif" font-size="13" fill="#8c9bb2" textLength="65.3" lengthAdjust="spacingAndGlyphs">varchar(50)</text>
<path d="M418.1,485.1 L420.9,487.9 M420.9,485.1 L418.1,487.9" stroke="#a85050" stroke-width="0.9"/>
<text x="437" y="493" font-family="Liberation Sans, sans-serif" font-size="13" fill="#161828" textLength="54.3" lengthAdjust="spacingAndGlyphs">password</text>
<text x="577" y="493" text-anchor="end" font-family="Liberation Sans, sans-serif" font-size="13" fill="#8c9bb2" textLength="65.3" lengthAdjust="spacingAndGlyphs">varchar(60)</text>
</g>
<g>
<rect x="624" y="371" width="176" height="141" rx="6" fill="#fff"/>
<path d="M624,396 V377 Q624,371 630,371 H794 Q800,371 800,377 V396 Z" fill="url(#gblue)"/>
<text x="712.0" y="389" text-anchor="middle" font-family="Liberation Sans, sans-serif" font-size="13" fill="#0e1626" textLength="43.8" lengthAdjust="spacingAndGlyphs">student</text>
<path d="M626.1,405.1 L628.9,407.9 M628.9,405.1 L626.1,407.9" stroke="#a85050" stroke-width="0.9"/>
<g transform="translate(624,401)"><g><path d="M10.6,5.6 L2.4,13.4 L3.0,14.7 L7.2,14.7 L7.2,13.0 L8.9,13.0 L8.9,11.3 L10.6,11.3 L10.6,9.6 L12.2,9.6 L13.6,8.3 Z" fill="#f2d22a" stroke="#8a6c14" stroke-width="0.65" stroke-linejoin="miter"/><rect x="10.2" y="1.4" width="7.5" height="6.9" rx="3" fill="#f2d22a" stroke="#9a7a18" stroke-width="0.6"/><ellipse cx="14" cy="4.1" rx="1.8" ry="0.9" fill="#c4a070"/></g></g>
<text x="645" y="413" font-family="Liberation Sans, sans-serif" font-size="13" fill="#6a4512" textLength="55.0" lengthAdjust="spacingAndGlyphs">studentId</text>
<text x="785" y="413" text-anchor="end" font-family="Liberation Sans, sans-serif" font-size="13" fill="#8c9bb2" textLength="65.3" lengthAdjust="spacingAndGlyphs">varchar(36)</text>
<g transform="translate(786.5,401.5)"><g><path d="M12.6,1.0 L3.6,10.0" stroke="url(#gpk)" stroke-width="2.2" stroke-linecap="round"/><path d="M0.6,13.0 L0.6,5.6 L8.0,13.0 Z" fill="#b0924e"/></g></g>
<path d="M626.1,421.1 L628.9,423.9 M628.9,421.1 L626.1,423.9" stroke="#a85050" stroke-width="0.9"/>
<g transform="translate(626.5,417)"><g><path d="M2.9,14.2 L4.3,12.7" stroke="#e8782a" stroke-width="2.7" stroke-linecap="round"/><circle cx="3.0" cy="14.1" r="1.1" fill="#c85a14"/><circle cx="9.0" cy="7.0" r="5.3" fill="#fbfbfb" stroke="#a0a0a0" stroke-width="1.15"/><path d="M6.8,5.4 V7.0 Q6.8,9.2 9.0,9.2 Q11.2,9.2 11.2,7.0 V5.4" fill="none" stroke="#a8a8a8" stroke-width="1.1"/></g></g>
<text x="645" y="429" font-family="Liberation Sans, sans-serif" font-size="13" fill="#161828" textLength="31.6" lengthAdjust="spacingAndGlyphs">email</text>
<text x="785" y="429" text-anchor="end" font-family="Liberation Sans, sans-serif" font-size="13" fill="#8c9bb2" textLength="72.6" lengthAdjust="spacingAndGlyphs">varchar(255)</text>
<path d="M626.1,437.1 L628.9,439.9 M628.9,437.1 L626.1,439.9" stroke="#a85050" stroke-width="0.9"/>
<text x="645" y="445" font-family="Liberation Sans, sans-serif" font-size="13" fill="#161828" textLength="56.5" lengthAdjust="spacingAndGlyphs">firstName</text>
<text x="785" y="445" text-anchor="end" font-family="Liberation Sans, sans-serif" font-size="13" fill="#8c9bb2" textLength="65.3" lengthAdjust="spacingAndGlyphs">varchar(50)</text>
<path d="M626.1,453.1 L628.9,455.9 M628.9,453.1 L626.1,455.9" stroke="#a85050" stroke-width="0.9"/>
<text x="645" y="461" font-family="Liberation Sans, sans-serif" font-size="13" fill="#161828" textLength="71.0" lengthAdjust="spacingAndGlyphs">otherNames</text>
<text x="785" y="461" text-anchor="end" font-family="Liberation Sans, sans-serif" font-size="13" fill="#8c9bb2" textLength="65.3" lengthAdjust="spacingAndGlyphs">varchar(50)</text>
<path d="M626.1,469.1 L628.9,471.9 M628.9,469.1 L626.1,471.9" stroke="#a85050" stroke-width="0.9"/>
<text x="645" y="477" font-family="Liberation Sans, sans-serif" font-size="13" fill="#161828" textLength="54.7" lengthAdjust="spacingAndGlyphs">lastName</text>
<text x="785" y="477" text-anchor="end" font-family="Liberation Sans, sans-serif" font-size="13" fill="#8c9bb2" textLength="65.3" lengthAdjust="spacingAndGlyphs">varchar(50)</text>
<path d="M626.1,485.1 L628.9,487.9 M628.9,485.1 L626.1,487.9" stroke="#a85050" stroke-width="0.9"/>
<text x="645" y="493" font-family="Liberation Sans, sans-serif" font-size="13" fill="#161828" textLength="54.3" lengthAdjust="spacingAndGlyphs">password</text>
<text x="785" y="493" text-anchor="end" font-family="Liberation Sans, sans-serif" font-size="13" fill="#8c9bb2" textLength="65.3" lengthAdjust="spacingAndGlyphs">varchar(60)</text>
</g>
<g>
<rect x="832" y="371" width="192" height="141" rx="6" fill="#fff"/>
<path d="M832,396 V377 Q832,371 838,371 H1018 Q1024,371 1024,377 V396 Z" fill="url(#ggreen)"/>
<text x="928.0" y="389" text-anchor="middle" font-family="Liberation Sans, sans-serif" font-size="13" fill="#0e1626" textLength="45.0" lengthAdjust="spacingAndGlyphs">account</text>
<path d="M834.1,405.1 L836.9,407.9 M836.9,405.1 L834.1,407.9" stroke="#a85050" stroke-width="0.9"/>
<g transform="translate(832,401)"><g><path d="M10.6,5.6 L2.4,13.4 L3.0,14.7 L7.2,14.7 L7.2,13.0 L8.9,13.0 L8.9,11.3 L10.6,11.3 L10.6,9.6 L12.2,9.6 L13.6,8.3 Z" fill="#f2d22a" stroke="#8a6c14" stroke-width="0.65" stroke-linejoin="miter"/><rect x="10.2" y="1.4" width="7.5" height="6.9" rx="3" fill="#f2d22a" stroke="#9a7a18" stroke-width="0.6"/><ellipse cx="14" cy="4.1" rx="1.8" ry="0.9" fill="#c4a070"/></g></g>
<text x="853" y="413" font-family="Liberation Sans, sans-serif" font-size="13" fill="#6a4512" textLength="56.2" lengthAdjust="spacingAndGlyphs">accountId</text>
<text x="1009" y="413" text-anchor="end" font-family="Liberation Sans, sans-serif" font-size="13" fill="#8fa597" textLength="65.3" lengthAdjust="spacingAndGlyphs">varchar(36)</text>
<g transform="translate(1010.5,401.5)"><g><path d="M12.6,1.0 L3.6,10.0" stroke="url(#gpk)" stroke-width="2.2" stroke-linecap="round"/><path d="M0.6,13.0 L0.6,5.6 L8.0,13.0 Z" fill="#b0924e"/></g></g>
<path d="M834.1,421.1 L836.9,423.9 M836.9,421.1 L834.1,423.9" stroke="#a85050" stroke-width="0.9"/>
<g transform="translate(834.5,417)"><g><path d="M2.9,14.2 L4.3,12.7" stroke="#e8782a" stroke-width="2.7" stroke-linecap="round"/><circle cx="3.0" cy="14.1" r="1.1" fill="#c85a14"/><circle cx="9.0" cy="7.0" r="5.3" fill="#fbfbfb" stroke="#a0a0a0" stroke-width="1.15"/><path d="M6.8,5.4 V7.0 Q6.8,9.2 9.0,9.2 Q11.2,9.2 11.2,7.0 V5.4" fill="none" stroke="#a8a8a8" stroke-width="1.1"/></g></g>
<text x="853" y="429" font-family="Liberation Sans, sans-serif" font-size="13" fill="#161828" textLength="31.6" lengthAdjust="spacingAndGlyphs">email</text>
<text x="1009" y="429" text-anchor="end" font-family="Liberation Sans, sans-serif" font-size="13" fill="#8fa597" textLength="72.6" lengthAdjust="spacingAndGlyphs">varchar(255)</text>
<path d="M834.1,437.1 L836.9,439.9 M836.9,437.1 L834.1,439.9" stroke="#a85050" stroke-width="0.9"/>
<text x="853" y="445" font-family="Liberation Sans, sans-serif" font-size="13" fill="#161828" textLength="56.5" lengthAdjust="spacingAndGlyphs">firstName</text>
<text x="1009" y="445" text-anchor="end" font-family="Liberation Sans, sans-serif" font-size="13" fill="#8fa597" textLength="65.3" lengthAdjust="spacingAndGlyphs">varchar(50)</text>
<path d="M834.1,453.1 L836.9,455.9 M836.9,453.1 L834.1,455.9" stroke="#a85050" stroke-width="0.9"/>
<text x="853" y="461" font-family="Liberation Sans, sans-serif" font-size="13" fill="#161828" textLength="71.0" lengthAdjust="spacingAndGlyphs">otherNames</text>
<text x="1009" y="461" text-anchor="end" font-family="Liberation Sans, sans-serif" font-size="13" fill="#8fa597" textLength="72.6" lengthAdjust="spacingAndGlyphs">varchar(255)</text>
<path d="M834.1,469.1 L836.9,471.9 M836.9,469.1 L834.1,471.9" stroke="#a85050" stroke-width="0.9"/>
<text x="853" y="477" font-family="Liberation Sans, sans-serif" font-size="13" fill="#161828" textLength="54.7" lengthAdjust="spacingAndGlyphs">lastName</text>
<text x="1009" y="477" text-anchor="end" font-family="Liberation Sans, sans-serif" font-size="13" fill="#8fa597" textLength="65.3" lengthAdjust="spacingAndGlyphs">varchar(50)</text>
<path d="M834.1,485.1 L836.9,487.9 M836.9,485.1 L834.1,487.9" stroke="#a85050" stroke-width="0.9"/>
<text x="853" y="493" font-family="Liberation Sans, sans-serif" font-size="13" fill="#161828" textLength="54.3" lengthAdjust="spacingAndGlyphs">password</text>
<text x="1009" y="493" text-anchor="end" font-family="Liberation Sans, sans-serif" font-size="13" fill="#8fa597" textLength="65.3" lengthAdjust="spacingAndGlyphs">varchar(60)</text>
</g>
<g>
<rect x="176" y="419" width="160" height="109" rx="6" fill="#fff"/>
<path d="M176,444 V425 Q176,419 182,419 H330 Q336,419 336,425 V444 Z" fill="url(#gblue)"/>
<text x="256.0" y="437" text-anchor="middle" font-family="Liberation Sans, sans-serif" font-size="13" fill="#0e1626" textLength="56.6" lengthAdjust="spacingAndGlyphs">testResult</text>
<path d="M178.1,453.1 L180.9,455.9 M180.9,453.1 L178.1,455.9" stroke="#a85050" stroke-width="0.9"/>
<g transform="translate(176,449)"><g><path d="M10.6,5.6 L2.4,13.4 L3.0,14.7 L7.2,14.7 L7.2,13.0 L8.9,13.0 L8.9,11.3 L10.6,11.3 L10.6,9.6 L12.2,9.6 L13.6,8.3 Z" fill="#f2d22a" stroke="#8a6c14" stroke-width="0.65" stroke-linejoin="miter"/><rect x="10.2" y="1.4" width="7.5" height="6.9" rx="3" fill="#f2d22a" stroke="#9a7a18" stroke-width="0.6"/><ellipse cx="14" cy="4.1" rx="1.8" ry="0.9" fill="#c4a070"/></g></g>
<text x="197" y="461" font-family="Liberation Sans, sans-serif" font-size="13" fill="#6a4512" textLength="55.0" lengthAdjust="spacingAndGlyphs">studentId</text>
<text x="321" y="461" text-anchor="end" font-family="Liberation Sans, sans-serif" font-size="13" fill="#8c9bb2" textLength="65.3" lengthAdjust="spacingAndGlyphs">varchar(36)</text>
<g transform="translate(322.5,449.5)"><g><path d="M1.0,12.8 L10.0,3.8" stroke="#74a4cc" stroke-width="2.2" stroke-linecap="round"/><path d="M13.0,0.8 L13.0,8.0 L5.8,0.8 Z" fill="#6a9cc6"/></g></g>
<path d="M178.1,469.1 L180.9,471.9 M180.9,469.1 L178.1,471.9" stroke="#a85050" stroke-width="0.9"/>
<g transform="translate(179,477.6) scale(0.87) translate(-3.2,-14.6)"><g><path d="M10.6,5.6 L2.4,13.4 L3.0,14.7 L7.2,14.7 L7.2,13.0 L8.9,13.0 L8.9,11.3 L10.6,11.3 L10.6,9.6 L12.2,9.6 L13.6,8.3 Z" fill="#f2d22a" stroke="#8a6c14" stroke-width="0.65" stroke-linejoin="miter"/><rect x="10.2" y="1.4" width="7.5" height="6.9" rx="3" fill="#f2d22a" stroke="#9a7a18" stroke-width="0.6"/><ellipse cx="14" cy="4.1" rx="1.8" ry="0.9" fill="#c4a070"/></g></g>
<text x="197" y="477" font-family="Liberation Sans, sans-serif" font-size="13" fill="#6a4512" textLength="32.4" lengthAdjust="spacingAndGlyphs">testId</text>
<text x="321" y="477" text-anchor="end" font-family="Liberation Sans, sans-serif" font-size="13" fill="#8c9bb2" textLength="65.3" lengthAdjust="spacingAndGlyphs">varchar(36)</text>
<g transform="translate(322.5,465.5)"><g><path d="M1.0,12.8 L10.0,3.8" stroke="#74a4cc" stroke-width="2.2" stroke-linecap="round"/><path d="M13.0,0.8 L13.0,8.0 L5.8,0.8 Z" fill="#6a9cc6"/></g></g>
<path d="M178.1,485.1 L180.9,487.9 M180.9,485.1 L178.1,487.9" stroke="#a85050" stroke-width="0.9"/>
<text x="197" y="493" font-family="Liberation Sans, sans-serif" font-size="13" fill="#161828" textLength="56.2" lengthAdjust="spacingAndGlyphs">accountId</text>
<text x="321" y="493" text-anchor="end" font-family="Liberation Sans, sans-serif" font-size="13" fill="#8c9bb2" textLength="65.3" lengthAdjust="spacingAndGlyphs">varchar(36)</text>
<g transform="translate(322.5,481.5)"><g><path d="M1.0,12.8 L10.0,3.8" stroke="#74a4cc" stroke-width="2.2" stroke-linecap="round"/><path d="M13.0,0.8 L13.0,8.0 L5.8,0.8 Z" fill="#6a9cc6"/></g></g>
<path d="M178.1,501.1 L180.9,503.9 M180.9,501.1 L178.1,503.9" stroke="#a85050" stroke-width="0.9"/>
<text x="197" y="509" font-family="Liberation Sans, sans-serif" font-size="13" fill="#161828" textLength="29.2" lengthAdjust="spacingAndGlyphs">mark</text>
<text x="321" y="509" text-anchor="end" font-family="Liberation Sans, sans-serif" font-size="13" fill="#8c9bb2" textLength="14.8" lengthAdjust="spacingAndGlyphs">int</text>
</g>
<g>
<rect x="688" y="579" width="160" height="109" rx="6" fill="#fff"/>
<path d="M688,604 V585 Q688,579 694,579 H842 Q848,579 848,585 V604 Z" fill="url(#gblue)"/>
<text x="768.0" y="597" text-anchor="middle" font-family="Liberation Sans, sans-serif" font-size="13" fill="#0e1626" textLength="86.2" lengthAdjust="spacingAndGlyphs">passwordReset</text>
<path d="M690.1,613.1 L692.9,615.9 M692.9,613.1 L690.1,615.9" stroke="#a85050" stroke-width="0.9"/>
<g transform="translate(688,609)"><g><path d="M10.6,5.6 L2.4,13.4 L3.0,14.7 L7.2,14.7 L7.2,13.0 L8.9,13.0 L8.9,11.3 L10.6,11.3 L10.6,9.6 L12.2,9.6 L13.6,8.3 Z" fill="#f2d22a" stroke="#8a6c14" stroke-width="0.65" stroke-linejoin="miter"/><rect x="10.2" y="1.4" width="7.5" height="6.9" rx="3" fill="#f2d22a" stroke="#9a7a18" stroke-width="0.6"/><ellipse cx="14" cy="4.1" rx="1.8" ry="0.9" fill="#c4a070"/></g></g>
<text x="709" y="621" font-family="Liberation Sans, sans-serif" font-size="13" fill="#6a4512" textLength="56.2" lengthAdjust="spacingAndGlyphs">accountId</text>
<text x="833" y="621" text-anchor="end" font-family="Liberation Sans, sans-serif" font-size="13" fill="#8c9bb2" textLength="65.3" lengthAdjust="spacingAndGlyphs">varchar(36)</text>
<g transform="translate(834.5,609.5)"><g><path d="M1.0,12.8 L10.0,3.8" stroke="#74a4cc" stroke-width="2.2" stroke-linecap="round"/><path d="M13.0,0.8 L13.0,8.0 L5.8,0.8 Z" fill="#6a9cc6"/></g></g>
<path d="M690.1,629.1 L692.9,631.9 M692.9,629.1 L690.1,631.9" stroke="#a85050" stroke-width="0.9"/>
<text x="709" y="637" font-family="Liberation Sans, sans-serif" font-size="13" fill="#161828" textLength="32.4" lengthAdjust="spacingAndGlyphs">token</text>
<text x="833" y="637" text-anchor="end" font-family="Liberation Sans, sans-serif" font-size="13" fill="#8c9bb2" textLength="65.3" lengthAdjust="spacingAndGlyphs">varchar(60)</text>
<path d="M690.1,645.1 L692.9,647.9 M692.9,645.1 L690.1,647.9" stroke="#a85050" stroke-width="0.9"/>
<text x="709" y="653" font-family="Liberation Sans, sans-serif" font-size="13" fill="#161828" textLength="35.0" lengthAdjust="spacingAndGlyphs">nonce</text>
<text x="833" y="653" text-anchor="end" font-family="Liberation Sans, sans-serif" font-size="13" fill="#8c9bb2" textLength="65.3" lengthAdjust="spacingAndGlyphs">varchar(16)</text>
<path d="M690.1,661.1 L692.9,663.9 M692.9,661.1 L690.1,663.9" stroke="#a85050" stroke-width="0.9"/>
<text x="709" y="669" font-family="Liberation Sans, sans-serif" font-size="13" fill="#161828" textLength="41.1" lengthAdjust="spacingAndGlyphs">expires</text>
<text x="833" y="669" text-anchor="end" font-family="Liberation Sans, sans-serif" font-size="13" fill="#8c9bb2" textLength="52.0" lengthAdjust="spacingAndGlyphs">datetime</text>
</g>
<g>
<rect x="448" y="627" width="160" height="77" rx="6" fill="#fff"/>
<path d="M448,652 V633 Q448,627 454,627 H602 Q608,627 608,633 V652 Z" fill="url(#gblue)"/>
<text x="528.0" y="645" text-anchor="middle" font-family="Liberation Sans, sans-serif" font-size="13" fill="#0e1626" textLength="104.2" lengthAdjust="spacingAndGlyphs">studentParentLink</text>
<path d="M450.1,661.1 L452.9,663.9 M452.9,661.1 L450.1,663.9" stroke="#a85050" stroke-width="0.9"/>
<g transform="translate(448,657)"><g><path d="M10.6,5.6 L2.4,13.4 L3.0,14.7 L7.2,14.7 L7.2,13.0 L8.9,13.0 L8.9,11.3 L10.6,11.3 L10.6,9.6 L12.2,9.6 L13.6,8.3 Z" fill="#f2d22a" stroke="#8a6c14" stroke-width="0.65" stroke-linejoin="miter"/><rect x="10.2" y="1.4" width="7.5" height="6.9" rx="3" fill="#f2d22a" stroke="#9a7a18" stroke-width="0.6"/><ellipse cx="14" cy="4.1" rx="1.8" ry="0.9" fill="#c4a070"/></g></g>
<text x="469" y="669" font-family="Liberation Sans, sans-serif" font-size="13" fill="#6a4512" textLength="54.7" lengthAdjust="spacingAndGlyphs">studentid</text>
<text x="593" y="669" text-anchor="end" font-family="Liberation Sans, sans-serif" font-size="13" fill="#8c9bb2" textLength="65.3" lengthAdjust="spacingAndGlyphs">varchar(36)</text>
<g transform="translate(594.5,657.5)"><g><path d="M1.0,12.8 L10.0,3.8" stroke="#74a4cc" stroke-width="2.2" stroke-linecap="round"/><path d="M13.0,0.8 L13.0,8.0 L5.8,0.8 Z" fill="#6a9cc6"/></g></g>
<path d="M450.1,677.1 L452.9,679.9 M452.9,677.1 L450.1,679.9" stroke="#a85050" stroke-width="0.9"/>
<g transform="translate(451,685.6) scale(0.87) translate(-3.2,-14.6)"><g><path d="M10.6,5.6 L2.4,13.4 L3.0,14.7 L7.2,14.7 L7.2,13.0 L8.9,13.0 L8.9,11.3 L10.6,11.3 L10.6,9.6 L12.2,9.6 L13.6,8.3 Z" fill="#f2d22a" stroke="#8a6c14" stroke-width="0.65" stroke-linejoin="miter"/><rect x="10.2" y="1.4" width="7.5" height="6.9" rx="3" fill="#f2d22a" stroke="#9a7a18" stroke-width="0.6"/><ellipse cx="14" cy="4.1" rx="1.8" ry="0.9" fill="#c4a070"/></g></g>
<text x="469" y="685" font-family="Liberation Sans, sans-serif" font-size="13" fill="#6a4512" textLength="49.0" lengthAdjust="spacingAndGlyphs">parentId</text>
<text x="593" y="685" text-anchor="end" font-family="Liberation Sans, sans-serif" font-size="13" fill="#8c9bb2" textLength="65.3" lengthAdjust="spacingAndGlyphs">varchar(36)</text>
<g transform="translate(594.5,673.5)"><g><path d="M1.0,12.8 L10.0,3.8" stroke="#74a4cc" stroke-width="2.2" stroke-linecap="round"/><path d="M13.0,0.8 L13.0,8.0 L5.8,0.8 Z" fill="#6a9cc6"/></g></g>
</g>
</svg></body></html>
